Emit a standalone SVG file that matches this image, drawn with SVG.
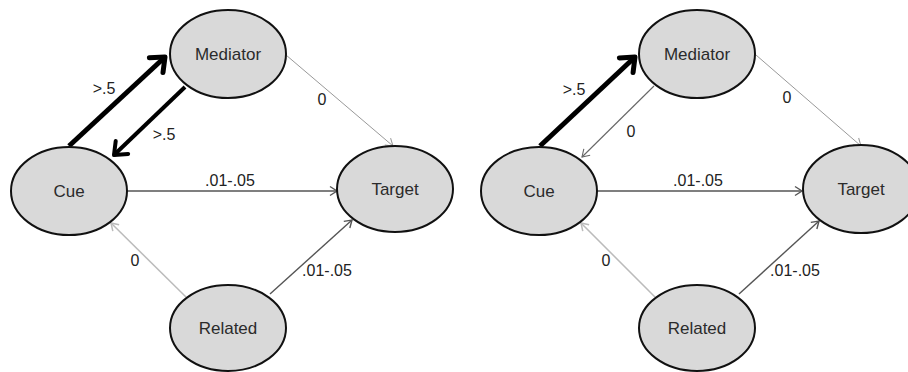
<svg xmlns="http://www.w3.org/2000/svg" width="908" height="372" viewBox="0 0 908 372">
<style>
.node ellipse{fill:#d9d9d9;stroke:#111;stroke-width:2}
.node text{font-family:"Liberation Sans",Arial,sans-serif;font-size:17px;fill:#2b2b2b;text-anchor:middle}
.lbl{font-family:"Liberation Sans",Arial,sans-serif;font-size:16px;fill:#222;text-anchor:middle}
.e{fill:none}
.thick{stroke:#000;stroke-width:5}
.thick4{stroke:#000;stroke-width:4}
.dark{stroke:#555;stroke-width:1.4}
.mid{stroke:#666;stroke-width:1.1}
.light{stroke:#999;stroke-width:1}
.pale{stroke:#bbb;stroke-width:1.5}
</style>
<defs>
<marker id="aThick" markerUnits="userSpaceOnUse" viewBox="-20 -14 26 28" markerWidth="26" markerHeight="28" refX="0" refY="0" orient="auto" overflow="visible">
<path d="M-12,-10 L0,0 L-12,10" fill="none" stroke="#000" stroke-width="5" stroke-linecap="round" stroke-linejoin="round"/>
</marker>
<marker id="aThick4" markerUnits="userSpaceOnUse" viewBox="-20 -14 26 28" markerWidth="26" markerHeight="28" refX="0" refY="0" orient="auto" overflow="visible">
<path d="M-11,-9 L0,0 L-11,9" fill="none" stroke="#000" stroke-width="4" stroke-linecap="round" stroke-linejoin="round"/>
</marker>
<marker id="aDark" markerUnits="userSpaceOnUse" viewBox="-10 -6 12 12" markerWidth="12" markerHeight="12" refX="0" refY="0" orient="auto" overflow="visible">
<path d="M-7,-4.5 L0,0 L-7,4.5" fill="none" stroke="#555" stroke-width="1.4"/>
</marker>
<marker id="aMid" markerUnits="userSpaceOnUse" viewBox="-10 -6 12 12" markerWidth="12" markerHeight="12" refX="0" refY="0" orient="auto" overflow="visible">
<path d="M-7,-4.5 L0,0 L-7,4.5" fill="none" stroke="#666" stroke-width="1.1"/>
</marker>
<marker id="aLight" markerUnits="userSpaceOnUse" viewBox="-10 -6 12 12" markerWidth="12" markerHeight="12" refX="0" refY="0" orient="auto" overflow="visible">
<path d="M-7,-4.5 L0,0 L-7,4.5" fill="none" stroke="#999" stroke-width="1"/>
</marker>
<marker id="aPale" markerUnits="userSpaceOnUse" viewBox="-10 -6 12 12" markerWidth="12" markerHeight="12" refX="0" refY="0" orient="auto" overflow="visible">
<path d="M-7,-4.5 L0,0 L-7,4.5" fill="none" stroke="#bbb" stroke-width="1.5"/>
</marker>
</defs>
<rect width="908" height="372" fill="#fff"/>

<g id="connectors">
<!-- left diagram -->
<line class="e thick" x1="69" y1="146" x2="165" y2="57" marker-end="url(#aThick)"/>
<line class="e thick4" x1="185" y1="87" x2="114" y2="155" marker-end="url(#aThick4)"/>
<line class="e light" x1="286" y1="55" x2="393" y2="146" marker-end="url(#aLight)"/>
<line class="e dark" x1="127" y1="191" x2="337" y2="191" marker-end="url(#aDark)"/>
<line class="e pale" x1="186" y1="297" x2="111" y2="223" marker-end="url(#aPale)"/>
<line class="e dark" x1="270" y1="294" x2="352" y2="220" marker-end="url(#aDark)"/>
<!-- right diagram -->
<line class="e thick" x1="540" y1="146" x2="635" y2="57" marker-end="url(#aThick)"/>
<line class="e mid" x1="654" y1="86" x2="582" y2="157" marker-end="url(#aMid)"/>
<line class="e light" x1="756" y1="55" x2="861" y2="146" marker-end="url(#aLight)"/>
<line class="e dark" x1="597" y1="191" x2="802" y2="191" marker-end="url(#aDark)"/>
<line class="e pale" x1="655" y1="297" x2="581" y2="223" marker-end="url(#aPale)"/>
<line class="e dark" x1="739" y1="294" x2="819" y2="221" marker-end="url(#aDark)"/>
</g>

<g id="labels">
<text class="lbl" x="104" y="94">&gt;.5</text>
<text class="lbl" x="164" y="140">&gt;.5</text>
<text class="lbl" x="322" y="105">0</text>
<text class="lbl" x="230" y="186">.01-.05</text>
<text class="lbl" x="135" y="266">0</text>
<text class="lbl" x="327" y="276">.01-.05</text>
<text class="lbl" x="574" y="95">&gt;.5</text>
<text class="lbl" x="631" y="137">0</text>
<text class="lbl" x="787" y="103">0</text>
<text class="lbl" x="698" y="186">.01-.05</text>
<text class="lbl" x="606" y="266">0</text>
<text class="lbl" x="795" y="276">.01-.05</text>
</g>

<g id="L-mediator" class="node"><ellipse cx="228" cy="54" rx="58" ry="44"/><text x="228" y="60">Mediator</text></g>
<g id="L-cue" class="node"><ellipse cx="69" cy="191" rx="58" ry="44"/><text x="69" y="197">Cue</text></g>
<g id="L-target" class="node"><ellipse cx="395" cy="189" rx="58" ry="43"/><text x="395" y="195">Target</text></g>
<g id="L-related" class="node"><ellipse cx="228" cy="328" rx="58" ry="43"/><text x="228" y="334">Related</text></g>

<g id="R-mediator" class="node"><ellipse cx="697" cy="54" rx="58" ry="44"/><text x="697" y="60">Mediator</text></g>
<g id="R-cue" class="node"><ellipse cx="539" cy="191" rx="58" ry="44"/><text x="539" y="197">Cue</text></g>
<g id="R-target" class="node"><ellipse cx="861" cy="189" rx="58" ry="44"/><text x="861" y="195">Target</text></g>
<g id="R-related" class="node"><ellipse cx="697" cy="328" rx="58" ry="43"/><text x="697" y="334">Related</text></g>
</svg>
